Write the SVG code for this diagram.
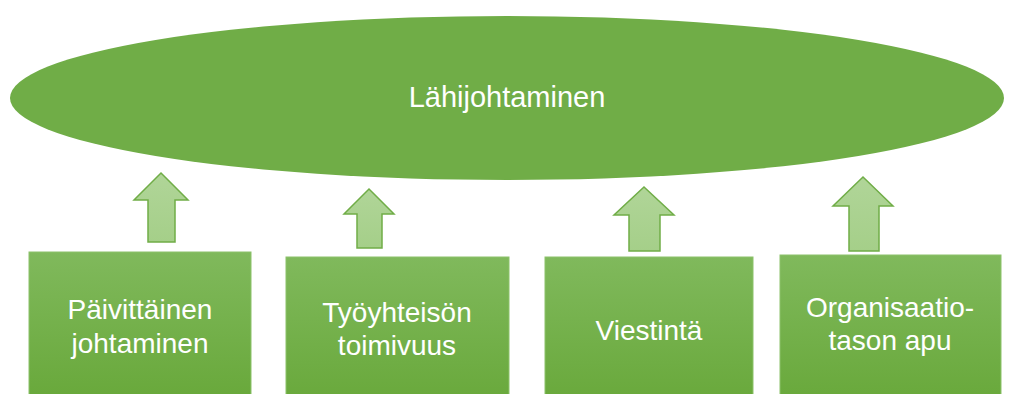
<svg xmlns="http://www.w3.org/2000/svg" width="1021" height="394" viewBox="0 0 1021 394">
<defs>
<linearGradient id="boxg" x1="0" y1="0" x2="0" y2="1">
<stop offset="0" stop-color="#80b95c"/>
<stop offset="1" stop-color="#68a83a"/>
</linearGradient>
<linearGradient id="arrg" x1="0" y1="0" x2="0" y2="1">
<stop offset="0" stop-color="#b0d598"/>
<stop offset="1" stop-color="#a5cf89"/>
</linearGradient>
<style>
.box{fill:url(#boxg);stroke:#8cc26b;stroke-width:1}
.arr{fill:url(#arrg);stroke:#70ad47;stroke-width:1.5;stroke-linejoin:miter}
.t{font-family:"Liberation Sans",Arial,sans-serif;fill:#ffffff;text-anchor:middle}
.tb{font-size:28px}
.te{font-size:29px}
</style>
</defs>
<rect width="1021" height="394" fill="#ffffff"/>
<g id="lahijohtaminen">
<ellipse cx="507" cy="98" rx="497" ry="82" fill="#70ad47"/>
<text class="t te" x="507" y="107">Lähijohtaminen</text>
</g>
<g id="connectors">
<path class="arr" d="M161,173 L188,200 L175,200 L175,242 L148,242 L148,200 L134,200 Z"/>
<path class="arr" d="M369,189 L394,214 L382,214 L382,248 L357,248 L357,214 L344,214 Z"/>
<path class="arr" d="M644,187 L674,215 L660,215 L660,251 L629,251 L629,215 L614,215 Z"/>
<path class="arr" d="M863,177 L893,206 L879,206 L879,251 L849,251 L849,206 L833,206 Z"/>
</g>
<g id="paivittainen">
<rect class="box" x="29" y="252" width="222" height="150"/>
<text class="t tb" x="140" y="319">Päivittäinen</text>
<text class="t tb" x="140" y="353">johtaminen</text>
</g>
<g id="tyoyhteison">
<rect class="box" x="286" y="257" width="223" height="150"/>
<text class="t tb" x="397" y="322">Työyhteisön</text>
<text class="t tb" x="397" y="355">toimivuus</text>
</g>
<g id="viestinta">
<rect class="box" x="545" y="257" width="208" height="150"/>
<text class="t tb" x="649" y="340">Viestintä</text>
</g>
<g id="organisaatio">
<rect class="box" x="780" y="255" width="221" height="150"/>
<text class="t tb" x="890" y="317">Organisaatio-</text>
<text class="t tb" x="890" y="350">tason apu</text>
</g>
</svg>
